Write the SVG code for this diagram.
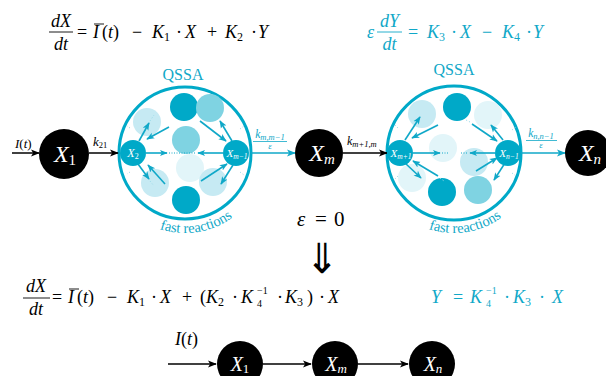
<svg xmlns="http://www.w3.org/2000/svg" width="606" height="376" viewBox="0 0 606 376">
<defs>
<style>
.m{font-family:"Liberation Serif",serif;font-style:italic}
.r{font-family:"Liberation Serif",serif;font-style:normal}
.cy{fill:#10a8c8}
.blk{fill:#000}
.wt{fill:#fff}
.dark{fill:#00a9c8}
.med{fill:#7fd3e2}
.lt{fill:#c6eaf3}
.vlt{fill:#e2f5f9}
.big{fill:#fff;stroke:#00a9c8;stroke-width:3}
.ab{stroke:#000;stroke-width:1.5;fill:none;marker-end:url(#hb)}
.ac{stroke:#10a8c8;stroke-width:1.5;fill:none;marker-end:url(#hc)}
.ai{stroke:#10a8c8;stroke-width:1.6;fill:none;marker-end:url(#hi)}
.dot{stroke:#10a8c8;stroke-width:1;stroke-dasharray:1 1.5;fill:none}
.fdot{stroke:#9fdcea;stroke-width:1;stroke-dasharray:1.2 2;fill:none}
</style>
<marker id="hb" viewBox="0 0 10 10" refX="9" refY="5" markerWidth="9" markerHeight="9" orient="auto" markerUnits="userSpaceOnUse"><path d="M0,1 L10,5 L0,9 L2.5,5 z" fill="#000"/></marker>
<marker id="hc" viewBox="0 0 10 10" refX="9" refY="5" markerWidth="9" markerHeight="9" orient="auto" markerUnits="userSpaceOnUse"><path d="M0,1 L10,5 L0,9 L2.5,5 z" fill="#10a8c8"/></marker>
<marker id="hi" viewBox="0 0 10 10" refX="9" refY="5" markerWidth="8" markerHeight="8" orient="auto" markerUnits="userSpaceOnUse"><path d="M0,1 L10,5 L0,9 L2.5,5 z" fill="#10a8c8"/></marker>
<path id="arcL" d="M105,153 A80,80 0 0 0 265,153"/>
<path id="arcR" d="M374,153 A80,80 0 0 0 534,153"/>
</defs>

<!-- top equations -->
<g id="eq-top-left" class="blk">
<text class="m" font-size="18" x="61" y="27" text-anchor="middle">dX</text>
<line x1="49" y1="32" x2="73" y2="32" stroke="#000" stroke-width="0.9"/>
<text class="m" font-size="18" x="61" y="50" text-anchor="middle">dt</text>
<text font-size="18" y="38"><tspan class="r" x="77">=</tspan><tspan class="m" x="93">I</tspan><tspan class="r" x="102">(</tspan><tspan class="m">t</tspan><tspan class="r">)</tspan><tspan class="r" x="132">−</tspan><tspan class="m" x="152">K</tspan><tspan class="r" font-size="12" dy="3">1</tspan><tspan class="r" x="176" dy="-3">·</tspan><tspan class="m" x="185">X</tspan><tspan class="r" x="207">+</tspan><tspan class="m" x="225">K</tspan><tspan class="r" font-size="12" dy="3">2</tspan><tspan class="r" x="251" dy="-3">·</tspan><tspan class="m" x="258">Y</tspan></text>
<line x1="94" y1="24" x2="104" y2="24" stroke="#000" stroke-width="0.9"/>
</g>

<g id="eq-top-right" class="cy">
<text class="m" font-size="18" x="367" y="38">ε</text>
<text class="m" font-size="18" x="389.5" y="27" text-anchor="middle">dY</text>
<line x1="377" y1="32" x2="402" y2="32" stroke="#10a8c8" stroke-width="0.9"/>
<text class="m" font-size="18" x="389.5" y="50" text-anchor="middle">dt</text>
<text font-size="18" y="38"><tspan class="r" x="408">=</tspan><tspan class="m" x="427">K</tspan><tspan class="r" font-size="12" dy="3">3</tspan><tspan class="r" x="451" dy="-3">·</tspan><tspan class="m" x="460">X</tspan><tspan class="r" x="482">−</tspan><tspan class="m" x="502">K</tspan><tspan class="r" font-size="12" dy="3">4</tspan><tspan class="r" x="526" dy="-3">·</tspan><tspan class="m" x="533">Y</tspan></text>
</g>

<!-- QSSA circles -->
<g id="qssa-left">
<text class="r cy" font-size="16" x="183" y="80" text-anchor="middle">QSSA</text>
<circle class="big" cx="185" cy="153" r="66"/>
<circle class="dark" cx="184" cy="107" r="14"/>
<circle class="med" cx="210" cy="108" r="14"/>
<circle class="lt" cx="147" cy="122" r="14"/>
<circle class="med" cx="186" cy="140" r="14"/>
<circle class="vlt" cx="190" cy="168" r="14"/>
<circle class="lt" cx="155" cy="183" r="14"/>
<circle class="lt" cx="213" cy="182" r="14"/>
<circle class="dark" cx="186" cy="200" r="14"/>
<text class="r cy" font-size="14.5"><textPath href="#arcL" startOffset="55%" text-anchor="middle">fast reactions</textPath></text>
</g>

<g id="qssa-right">
<text class="r cy" font-size="16" x="454" y="75" text-anchor="middle">QSSA</text>
<circle class="big" cx="454" cy="153" r="67"/>
<circle class="dark" cx="457" cy="107" r="14"/>
<circle class="lt" cx="422" cy="114" r="14"/>
<circle class="vlt" cx="488" cy="115" r="14"/>
<circle class="vlt" cx="443" cy="148" r="14"/>
<circle class="lt" cx="474" cy="162" r="14"/>
<circle class="vlt" cx="412" cy="178" r="14"/>
<circle class="dark" cx="442" cy="192" r="14"/>
<circle class="med" cx="478" cy="190" r="14"/>
<text class="r cy" font-size="14.5"><textPath href="#arcR" startOffset="55%" text-anchor="middle">fast reactions</textPath></text>
</g>

<!-- connectors -->
<g id="connectors">
<line class="ab" x1="12" y1="153" x2="39" y2="153"/>
<line class="ab" x1="89" y1="153" x2="118" y2="153"/>
<line class="ac" x1="251" y1="153" x2="295" y2="153"/>
<line class="ab" x1="343" y1="153" x2="387" y2="153"/>
<line class="ac" x1="521" y1="153" x2="565" y2="153"/>
<!-- inner left -->
<line class="ai" x1="139" y1="141" x2="149" y2="123"/>
<line class="ai" x1="169" y1="127" x2="147" y2="139"/>
<line class="ai" x1="146" y1="153" x2="167" y2="153"/>
<line class="ai" x1="223" y1="153" x2="198" y2="153"/>
<line class="dot" x1="169" y1="153" x2="196" y2="153"/>
<line class="ai" x1="138" y1="164" x2="149" y2="179"/>
<line class="ai" x1="165" y1="184" x2="148" y2="165"/>
<line class="ai" x1="200" y1="121" x2="226" y2="141"/>
<line class="ai" x1="232" y1="141" x2="220" y2="121"/>
<line class="ai" x1="201" y1="181" x2="227" y2="164"/>
<line class="ai" x1="233" y1="165" x2="221" y2="184"/>
<line class="fdot" x1="150" y1="121" x2="154" y2="115"/>
<line class="fdot" x1="130" y1="128" x2="127" y2="126"/>
<line class="fdot" x1="240" y1="129" x2="244" y2="126"/>
<line class="fdot" x1="130" y1="172" x2="127" y2="174"/>
<line class="fdot" x1="240" y1="172" x2="244" y2="175"/>
<line class="fdot" x1="150" y1="181" x2="154" y2="186"/>
<!-- inner right -->
<line class="ai" x1="405" y1="140" x2="420" y2="117"/>
<line class="ai" x1="438" y1="125" x2="412" y2="138"/>
<line class="ai" x1="413" y1="153" x2="440" y2="153"/>
<line class="dot" x1="442" y1="153" x2="448" y2="153"/>
<line class="ai" x1="495" y1="153" x2="470" y2="153"/>
<line class="dot" x1="461" y1="153" x2="467" y2="153"/>
<line class="ai" x1="405" y1="163" x2="421" y2="178"/>
<line class="ai" x1="438" y1="176" x2="413" y2="161"/>
<line class="ai" x1="472" y1="124" x2="497" y2="141"/>
<line class="ai" x1="503" y1="140" x2="491" y2="125"/>
<line class="ai" x1="476" y1="171" x2="497" y2="158"/>
<line class="ai" x1="505" y1="163" x2="494" y2="180"/>
<line class="fdot" x1="398" y1="128" x2="395" y2="125"/>
<line class="fdot" x1="398" y1="176" x2="395" y2="179"/>
<line class="fdot" x1="512" y1="130" x2="516" y2="127"/>
<line class="fdot" x1="512" y1="173" x2="516" y2="176"/>
<line class="fdot" x1="470" y1="122" x2="466" y2="120"/>
<line class="fdot" x1="440" y1="178" x2="444" y2="181"/>
<!-- bottom chain -->
<line class="ab" x1="168" y1="364" x2="216" y2="364"/>
<line class="ab" x1="263" y1="364" x2="311" y2="364"/>
<line class="ab" x1="358" y1="364" x2="408" y2="364"/>
</g>

<!-- connector labels -->
<g id="labels">
<text class="blk" font-size="13" x="15" y="148"><tspan class="m">I</tspan><tspan class="r">(</tspan><tspan class="m">t</tspan><tspan class="r">)</tspan></text>
<text class="blk" font-size="13" x="93" y="146"><tspan class="m">k</tspan><tspan class="r" font-size="8.5" dy="2">21</tspan></text>
<text class="cy" font-size="11.5" x="270" y="138" text-anchor="middle"><tspan class="m">k</tspan><tspan class="m" font-size="8.5" dy="2">m,m−1</tspan></text>
<line x1="253" y1="141.5" x2="287" y2="141.5" stroke="#10a8c8" stroke-width="0.8"/>
<text class="m cy" font-size="9" x="270" y="149" text-anchor="middle">ε</text>
<text class="blk" font-size="12" x="347" y="145"><tspan class="m">k</tspan><tspan class="m" font-size="8.5" dy="2">m+1,m</tspan></text>
<text class="cy" font-size="11.5" x="541" y="137" text-anchor="middle"><tspan class="m">k</tspan><tspan class="m" font-size="8.5" dy="2">n,n−1</tspan></text>
<line x1="526" y1="140.5" x2="557" y2="140.5" stroke="#10a8c8" stroke-width="0.8"/>
<text class="m cy" font-size="9" x="541" y="148" text-anchor="middle">ε</text>
</g>

<!-- nodes -->
<g id="node-X1"><circle cx="64" cy="154" r="25" fill="#000"/><text class="wt" font-size="24" x="65" y="162" text-anchor="middle"><tspan class="m">X</tspan><tspan class="r" font-size="15" dy="3">1</tspan></text></g>
<g id="node-X2"><circle class="dark" cx="133" cy="153" r="13"/><text class="wt" font-size="12" x="133" y="157" text-anchor="middle"><tspan class="m">X</tspan><tspan class="r" font-size="8" dy="2">2</tspan></text></g>
<g id="node-Xm-1"><circle class="dark" cx="236" cy="153" r="13"/><text class="wt" font-size="11" x="237" y="157" text-anchor="middle"><tspan class="m">X</tspan><tspan class="m" font-size="7.5" dy="2">m−1</tspan></text></g>
<g id="node-Xm"><circle cx="319" cy="153" r="24" fill="#000"/><text class="wt" font-size="24" x="322" y="161" text-anchor="middle"><tspan class="m">X</tspan><tspan class="m" font-size="15" dy="3">m</tspan></text></g>
<g id="node-Xm+1"><circle class="dark" cx="400" cy="153" r="13"/><text class="wt" font-size="11" x="401" y="157" text-anchor="middle"><tspan class="m">X</tspan><tspan class="m" font-size="7.5" dy="2">m+1</tspan></text></g>
<g id="node-Xn-1"><circle class="dark" cx="508" cy="153" r="13"/><text class="wt" font-size="11" x="509" y="157" text-anchor="middle"><tspan class="m">X</tspan><tspan class="m" font-size="7.5" dy="2">n−1</tspan></text></g>
<g id="node-Xn"><circle cx="588" cy="153" r="23" fill="#000"/><text class="wt" font-size="24" x="590" y="161" text-anchor="middle"><tspan class="m">X</tspan><tspan class="m" font-size="15" dy="3">n</tspan></text></g>

<!-- epsilon = 0 and implication -->
<g id="eps-zero" class="blk">
<text font-size="21" y="226"><tspan class="m" x="297">ε</tspan><tspan class="r" x="315">=</tspan><tspan class="r" x="334">0</tspan></text>
<text font-family="DejaVu Sans, sans-serif" font-size="40" x="322" y="0" text-anchor="middle" transform="translate(0,273) scale(1,1.04)">⇓</text>
</g>

<!-- bottom equations -->
<g id="eq-bottom-left" class="blk">
<text class="m" font-size="18" x="36" y="292" text-anchor="middle">dX</text>
<line x1="23" y1="298" x2="50" y2="298" stroke="#000" stroke-width="0.9"/>
<text class="m" font-size="18" x="36" y="315" text-anchor="middle">dt</text>
<text font-size="18" y="303"><tspan class="r" x="52">=</tspan><tspan class="m" x="68">I</tspan><tspan class="r" x="77">(</tspan><tspan class="m">t</tspan><tspan class="r">)</tspan><tspan class="r" x="107">−</tspan><tspan class="m" x="127">K</tspan><tspan class="r" font-size="12" dy="3">1</tspan><tspan class="r" x="151" dy="-3">·</tspan><tspan class="m" x="160">X</tspan><tspan class="r" x="182">+</tspan><tspan class="r" x="200">(</tspan><tspan class="m" x="206">K</tspan><tspan class="r" font-size="12" dy="3">2</tspan><tspan class="r" x="232" dy="-3">·</tspan><tspan class="m" x="241">K</tspan><tspan class="r" font-size="10" x="257" dy="-9">−1</tspan><tspan class="r" font-size="10" x="257" dy="13">4</tspan><tspan class="r" x="277" dy="-4">·</tspan><tspan class="m" x="285">K</tspan><tspan class="r" font-size="12" dy="3">3</tspan><tspan class="r" x="307" dy="-3">)</tspan><tspan class="r" x="319">·</tspan><tspan class="m" x="328">X</tspan></text>
<line x1="69" y1="289" x2="79" y2="289" stroke="#000" stroke-width="0.9"/>
</g>

<g id="eq-bottom-right" class="cy">
<text font-size="18" y="303"><tspan class="m" x="431">Y</tspan><tspan class="r" x="453">=</tspan><tspan class="m" x="470">K</tspan><tspan class="r" font-size="10" x="486" dy="-9">−1</tspan><tspan class="r" font-size="10" x="486" dy="13">4</tspan><tspan class="r" x="504" dy="-4">·</tspan><tspan class="m" x="513">K</tspan><tspan class="r" font-size="12" dy="3">3</tspan><tspan class="r" x="539" dy="-3">·</tspan><tspan class="m" x="552">X</tspan></text>
</g>

<!-- bottom chain -->
<g id="chain-label"><text class="blk" font-size="18" x="175" y="345"><tspan class="m">I</tspan><tspan class="r">(</tspan><tspan class="m">t</tspan><tspan class="r">)</tspan></text></g>
<g id="chain-X1"><circle cx="240" cy="364" r="23" fill="#000"/><text class="wt" font-size="20" x="240" y="371" text-anchor="middle"><tspan class="m">X</tspan><tspan class="r" font-size="13" dy="2">1</tspan></text></g>
<g id="chain-Xm"><circle cx="335" cy="364" r="23" fill="#000"/><text class="wt" font-size="20" x="336" y="371" text-anchor="middle"><tspan class="m">X</tspan><tspan class="m" font-size="13" dy="2">m</tspan></text></g>
<g id="chain-Xn"><circle cx="432" cy="364" r="23" fill="#000"/><text class="wt" font-size="20" x="433" y="371" text-anchor="middle"><tspan class="m">X</tspan><tspan class="m" font-size="13" dy="2">n</tspan></text></g>
</svg>
